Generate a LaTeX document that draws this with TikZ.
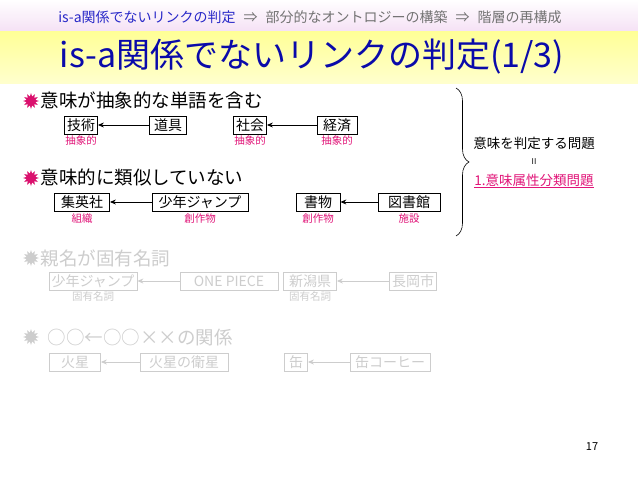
\documentclass[tikz,border=0pt]{standalone}
\usepackage{fontspec}
\setmainfont{Noto Sans CJK JP}
\usetikzlibrary{shapes.geometric,decorations.pathreplacing,arrows.meta}
\definecolor{hdblue}{RGB}{40,40,200}
\definecolor{ttlblue}{RGB}{10,10,170}
\definecolor{pinkc}{RGB}{225,20,120}
\definecolor{lgray}{RGB}{205,205,205}
\tikzset{
  bx/.style={draw,line width=0.8pt,inner sep=1pt,minimum height=18pt,font=\fontsize{14}{14}\selectfont},
  gbx/.style={bx,draw=lgray,text=lgray},
  lab/.style={text=pinkc,font=\fontsize{10.5}{10.5}\selectfont},
  glab/.style={text=lgray,font=\fontsize{10.5}{10.5}\selectfont},
  arr/.style={-{Stealth[length=6pt,width=5pt]},line width=0.9pt},
  garr/.style={arr,draw=lgray},
  head/.style={anchor=west,font=\fontsize{18.5}{18.5}\selectfont},
  burst/.style={star,star points=12,star point ratio=1.8,minimum size=16pt,inner sep=0pt,fill=#1}
}
\begin{document}
\begin{tikzpicture}[x=1pt,y=-1pt]
\useasboundingbox (0,0) rectangle (638,479);
\fill[white] (0,0) rectangle (638,479);
\shade[top color=white,bottom color={rgb,255:red,245;green,225;blue,245}] (0,0) rectangle (638,31);
\shade[top color={rgb,255:red,255;green,255;blue,150},bottom color={rgb,255:red,255;green,255;blue,205}] (0,31) rectangle (638,83);
\node (hdr) at (310,17) {\fontsize{14}{14}\selectfont\color{hdblue}is-a関係でないリンクの判定\color{gray!90!black}\hspace{8pt}⇒\hspace{8pt}部分的なオントロジーの構築\hspace{8pt}⇒\hspace{8pt}階層の再構成};
\node (ttl) at (312,57) {\fontsize{34}{34}\selectfont\color{ttlblue}is-a関係でないリンクの判定(1/3)};
% section 1
\node[burst=pinkc!80!purple] (s1) at (31,101) {};
\node[head] (h1) at (37,100) {意味が抽象的な単語を含む};
\node[bx,minimum width=33pt] (a1) at (81,125) {技術};
\node[bx,minimum width=37pt] (a2) at (168,125) {道具};
\node[bx,minimum width=33pt] (a3) at (250,125) {社会};
\node[bx,minimum width=40pt] (a4) at (337,125) {経済};
\draw[arr] (a2) -- (a1); \draw[arr] (a4) -- (a3);
\node[lab] (l1) at (81,141) {抽象的};
\node[lab] (l2) at (250,141) {抽象的};
\node[lab] (l3) at (337,141) {抽象的};
\node[burst=pinkc!80!purple] (s2) at (31,178) {};
\node[head] (h2) at (37,177) {意味的に類似していない};
\node[bx,minimum width=55pt] (b1) at (82,202) {集英社};
\node[bx,minimum width=96pt] (b2) at (200,202) {少年ジャンプ};
\node[bx,minimum width=44pt] (b3) at (318,202) {書物};
\node[bx,minimum width=62pt] (b4) at (409,202) {図書館};
\draw[arr] (b2) -- (b1); \draw[arr] (b4) -- (b3);
\node[lab] (m1) at (82,219) {組織};
\node[lab] (m2) at (200,219) {創作物};
\node[lab] (m3) at (318,219) {創作物};
\node[lab] (m4) at (409,219) {施設};
\coordinate (bt) at (456,88); \coordinate (bb) at (456,236);
\draw[decorate,decoration={brace,amplitude=13pt},line width=0.6pt] (bt) -- (bb);
\node (r1) at (534,143) {\fontsize{13.5}{13.5}\selectfont 意味を判定する問題};
\node (r2) at (534,162) {\fontsize{8}{8}\selectfont II};
\node (r3) at (534,181) {\fontsize{13.5}{13.5}\selectfont\color{pinkc}\underline{1.意味属性分類問題}};
% gray section 3
\node[burst=lgray] (s3) at (31,258) {};
\node[head,text=lgray] (h3) at (37,258) {親名が固有名詞};
\node[gbx,minimum width=88pt] (c1) at (93,281) {少年ジャンプ};
\node[gbx,minimum width=98pt] (c2) at (229,281) {ONE PIECE};
\node[gbx,minimum width=53pt] (c3) at (310,281) {新潟県};
\node[gbx,minimum width=47pt] (c4) at (413,281) {長岡市};
\draw[garr] (c2) -- (c1); \draw[garr] (c4) -- (c3);
\node[glab] (n1) at (93,297) {固有名詞};
\node[glab] (n2) at (310,297) {固有名詞};
\node[burst=lgray] (s4) at (31,337) {};
\node[head,text=lgray] (h4) at (44,338) {○○←○○××の関係};
\node[gbx,minimum width=51pt] (d1) at (75,362) {火星};
\node[gbx,minimum width=88pt] (d2) at (184,362) {火星の衛星};
\node[gbx,minimum width=23pt] (d3) at (296,362) {缶};
\node[gbx,minimum width=80pt] (d4) at (390,362) {缶コーヒー};
\draw[garr] (d2) -- (d1); \draw[garr] (d4) -- (d3);
\node (pg) at (592,447) {\fontsize{11}{11}\selectfont 17};
\end{tikzpicture}
\end{document}
